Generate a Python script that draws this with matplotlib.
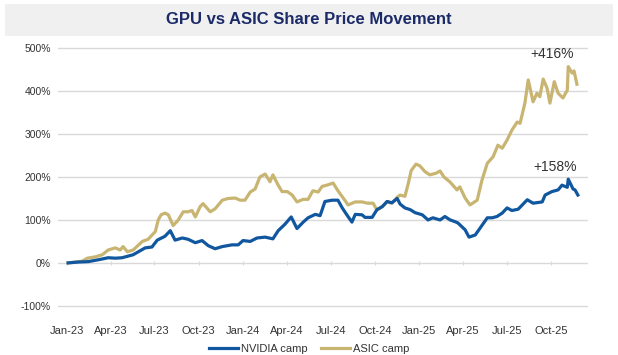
import pandas as pd
import matplotlib.pyplot as plt
import matplotlib.dates as mdates
from matplotlib.patches import Rectangle

# values (share price change, %)
nvidia_dates = [
    "2023-01-03", "2023-01-24", "2023-02-14", "2023-03-10", "2023-03-27", "2023-04-11",
    "2023-04-25", "2023-05-18", "2023-06-01", "2023-06-12", "2023-06-26", "2023-07-07",
    "2023-07-23", "2023-08-03", "2023-08-13", "2023-08-28", "2023-09-09", "2023-09-24",
    "2023-10-08", "2023-10-21", "2023-11-04", "2023-11-19", "2023-12-09", "2023-12-22",
    "2024-01-01", "2024-01-16", "2024-01-30", "2024-02-16", "2024-03-03", "2024-03-14",
    "2024-03-28", "2024-04-10", "2024-04-22", "2024-05-05", "2024-05-15", "2024-05-30",
    "2024-06-09", "2024-06-19", "2024-07-04", "2024-07-16", "2024-07-25", "2024-08-04",
    "2024-08-14", "2024-08-21", "2024-09-04", "2024-09-10", "2024-09-25", "2024-10-05",
    "2024-10-16", "2024-10-26", "2024-11-05", "2024-11-16", "2024-11-22", "2024-12-02",
    "2024-12-13", "2024-12-23", "2025-01-07", "2025-01-19", "2025-01-29", "2025-02-13",
    "2025-02-23", "2025-03-06", "2025-03-16", "2025-03-22", "2025-04-06", "2025-04-14",
    "2025-04-27", "2025-05-07", "2025-05-22", "2025-06-01", "2025-06-11", "2025-06-22",
    "2025-07-02", "2025-07-12", "2025-07-25", "2025-08-13", "2025-08-25", "2025-09-13",
    "2025-09-19", "2025-10-03", "2025-10-16", "2025-10-24", "2025-11-04", "2025-11-06",
    "2025-11-16", "2025-11-20", "2025-11-26",
]
nvidia_values = [
    0, 2, 3, 8, 12, 11,
    12, 19, 28, 35, 37, 53,
    62, 75, 53, 58, 55, 47,
    52, 40, 33, 38, 42, 42,
    52, 50, 58, 60, 56, 75,
    90, 107, 80, 95, 105, 113,
    110, 143, 146, 146, 128, 111,
    95, 113, 112, 106, 106, 124,
    131, 143, 140, 150, 137, 128,
    124, 117, 112, 100, 105, 100,
    108, 100, 96, 93, 77, 60,
    65, 81, 105, 105, 108, 116,
    128, 122, 125, 147, 139, 142,
    158, 166, 170, 181, 176, 195,
    172, 170, 158,
]

asic_dates = [
    "2023-01-03", "2023-01-18", "2023-02-01", "2023-02-12", "2023-02-28", "2023-03-15",
    "2023-03-27", "2023-04-11", "2023-04-21", "2023-04-27", "2023-05-06", "2023-05-18",
    "2023-06-06", "2023-06-18", "2023-07-03", "2023-07-09", "2023-07-15", "2023-07-23",
    "2023-07-30", "2023-08-09", "2023-08-19", "2023-08-30", "2023-09-09", "2023-09-17",
    "2023-09-24", "2023-10-04", "2023-10-10", "2023-10-25", "2023-11-04", "2023-11-19",
    "2023-12-01", "2023-12-16", "2023-12-26", "2024-01-05", "2024-01-16", "2024-01-26",
    "2024-02-05", "2024-02-16", "2024-02-26", "2024-03-03", "2024-03-14", "2024-03-22",
    "2024-04-02", "2024-04-12", "2024-04-22", "2024-05-05", "2024-05-15", "2024-05-25",
    "2024-06-05", "2024-06-13", "2024-06-26", "2024-07-06", "2024-07-16", "2024-07-27",
    "2024-08-06", "2024-08-21", "2024-09-04", "2024-09-15", "2024-09-27", "2024-10-05",
    "2024-10-16", "2024-10-26", "2024-11-05", "2024-11-16", "2024-11-22", "2024-12-02",
    "2024-12-09", "2024-12-15", "2024-12-25", "2025-01-02", "2025-01-13", "2025-01-23",
    "2025-02-05", "2025-02-13", "2025-02-21", "2025-03-06", "2025-03-20", "2025-03-26",
    "2025-04-06", "2025-04-16", "2025-05-01", "2025-05-11", "2025-05-22", "2025-06-03",
    "2025-06-13", "2025-06-22", "2025-07-02", "2025-07-12", "2025-07-23", "2025-07-29",
    "2025-08-08", "2025-08-15", "2025-08-25", "2025-09-02", "2025-09-08", "2025-09-15",
    "2025-09-23", "2025-09-29", "2025-10-08", "2025-10-16", "2025-10-26", "2025-11-04",
    "2025-11-06", "2025-11-14", "2025-11-18", "2025-11-24",
]
asic_values = [
    0, 2, 4, 11, 14, 19,
    30, 35, 30, 38, 26, 30,
    50, 55, 73, 100, 112, 116,
    112, 87, 99, 119, 119, 122,
    107, 131, 138, 119, 126, 146,
    150, 151, 146, 146, 165, 172,
    200, 207, 189, 205, 181, 166,
    166, 158, 142, 148, 148, 168,
    165, 178, 182, 186, 168, 151,
    135, 142, 142, 139, 139, 123,
    131, 142, 139, 153, 158, 155,
    185, 215, 230, 226, 212, 205,
    209, 214, 200, 188, 170, 177,
    151, 135, 146, 193, 232, 247,
    274, 267, 286, 309, 328, 325,
    372, 426, 375, 395, 387, 428,
    407, 372, 422, 395, 384, 402,
    457, 442, 447, 416,
]

y_ticks = [-100, 0, 100, 200, 300, 400, 500]

nv_color = "#10579F"
asic_color = "#C9B572"
grid_color = "#D9D9D9"
text_color = "#333333"

plt.rcParams["font.family"] = ["Liberation Sans", "DejaVu Sans"]

fig = plt.figure(figsize=(6.18, 3.55), dpi=100)

# grey title band
fig.patches.append(Rectangle((5 / 618, 1 - 36 / 355), 608 / 618, 32 / 355,
                             transform=fig.transFigure, facecolor="#F0F0F0",
                             edgecolor="none", zorder=0))
fig.text(0.5, 1 - 19 / 355, "GPU vs ASIC Share Price Movement", ha="center", va="center",
         fontsize=12, fontweight="bold", color="#1B2A68")

ax = fig.add_axes([58 / 618, 1 - 308 / 355, 530 / 618, 262 / 355])

nv_x = pd.to_datetime(nvidia_dates)
asic_x = pd.to_datetime(asic_dates)

ax.plot(asic_x, asic_values, color=asic_color, lw=2.3, label="ASIC camp", zorder=3)
ax.plot(nv_x, nvidia_values, color=nv_color, lw=2.3, label="NVIDIA camp", zorder=4)

ax.annotate(f"+{asic_values[-1]}%", (asic_x[-1], asic_values[-1]), xytext=(-2, 22),
            textcoords="offset points", ha="right", va="center", fontsize=10, color=text_color)
ax.annotate(f"+{nvidia_values[-1]}%", (nv_x[-1], nvidia_values[-1]), xytext=(-1, 20),
            textcoords="offset points", ha="right", va="center", fontsize=10, color=text_color)

ax.set_ylim(-105, 505)
ax.set_yticks(y_ticks)
ax.set_yticklabels([f"{v}%" for v in y_ticks])
ax.set_xlim(pd.Timestamp("2022-12-13"), pd.Timestamp("2025-12-17"))
ax.xaxis.set_major_locator(mdates.MonthLocator(bymonth=[1, 4, 7, 10]))
ax.xaxis.set_major_formatter(mdates.DateFormatter("%b-%y"))

ax.grid(axis="y", color=grid_color, lw=1)
ax.set_axisbelow(True)
for s in ax.spines.values():
    s.set_visible(False)
ax.tick_params(axis="both", length=0, labelsize=7.5, labelcolor=text_color)
ax.tick_params(axis="x", pad=13, labelsize=8)
ax.tick_params(axis="y", pad=5)

# small tick marks sitting on the 0% line
zero_loc = (0 - ax.get_ylim()[0]) / (ax.get_ylim()[1] - ax.get_ylim()[0])
sec = ax.secondary_xaxis(zero_loc)
sec.xaxis.set_major_locator(mdates.MonthLocator(bymonth=[1, 4, 7, 10]))
sec.tick_params(length=3, direction="inout", color=grid_color, labelbottom=False)
sec.spines["bottom"].set_visible(False)

handles, labels = ax.get_legend_handles_labels()
fig.legend(handles[::-1], labels[::-1], loc="center", bbox_to_anchor=(0.5, 6 / 355),
           ncol=2, frameon=False, fontsize=8, handlelength=2.6, handletextpad=0.3,
           columnspacing=1.2, labelcolor=text_color)

fig.savefig("out.png", dpi=100)
